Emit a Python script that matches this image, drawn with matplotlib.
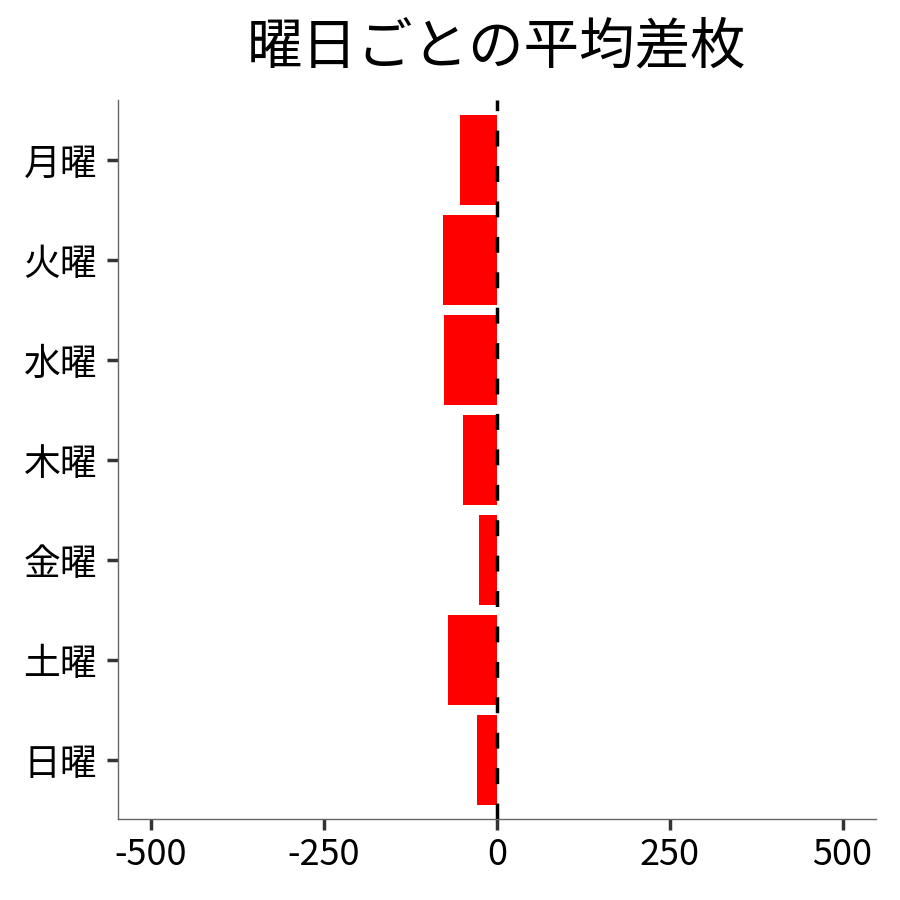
import matplotlib
matplotlib.use("Agg")
import matplotlib.pyplot as plt

plt.rcParams['font.family'] = ['Noto Sans CJK JP', 'DejaVu Sans']

days = ['月曜', '火曜', '水曜', '木曜', '金曜', '土曜', '日曜']
avg_diff = [-53, -78, -77, -49, -26, -71, -28]
xticks = [-500, -250, 0, 250, 500]
xticklabels = ['-500', '-250', '0', '250', '500']
title = '曜日ごとの平均差枚'

fig = plt.figure(figsize=(9, 9), dpi=100)
ax = fig.add_axes([0.131, 0.09, 0.842, 0.799])

ypos = list(range(len(days)))
ax.barh(ypos, avg_diff, height=0.9, color='#ff0000', zorder=2)
ax.axvline(0, color='black', lw=2.5, linestyle=(0, (4.6, 5.6)), zorder=3)

ax.set_ylim(len(days) - 0.41, -0.6)
ax.set_xlim(-548, 548)
ax.set_yticks(ypos)
ax.set_yticklabels(days, fontsize=26.5)
ax.set_xticks(xticks)
ax.set_xticklabels(xticklabels, fontsize=26)

for s in ['top', 'right']:
    ax.spines[s].set_visible(False)
for s in ['left', 'bottom']:
    ax.spines[s].set_color('#666666')
    ax.spines[s].set_linewidth(1.0)
ax.tick_params(axis='both', length=8, width=2.5, color='#333333', pad=5)
ax.tick_params(axis='y', pad=7)

ax.set_title(title, fontsize=40, pad=26)

fig.savefig('out.png', dpi=100)
